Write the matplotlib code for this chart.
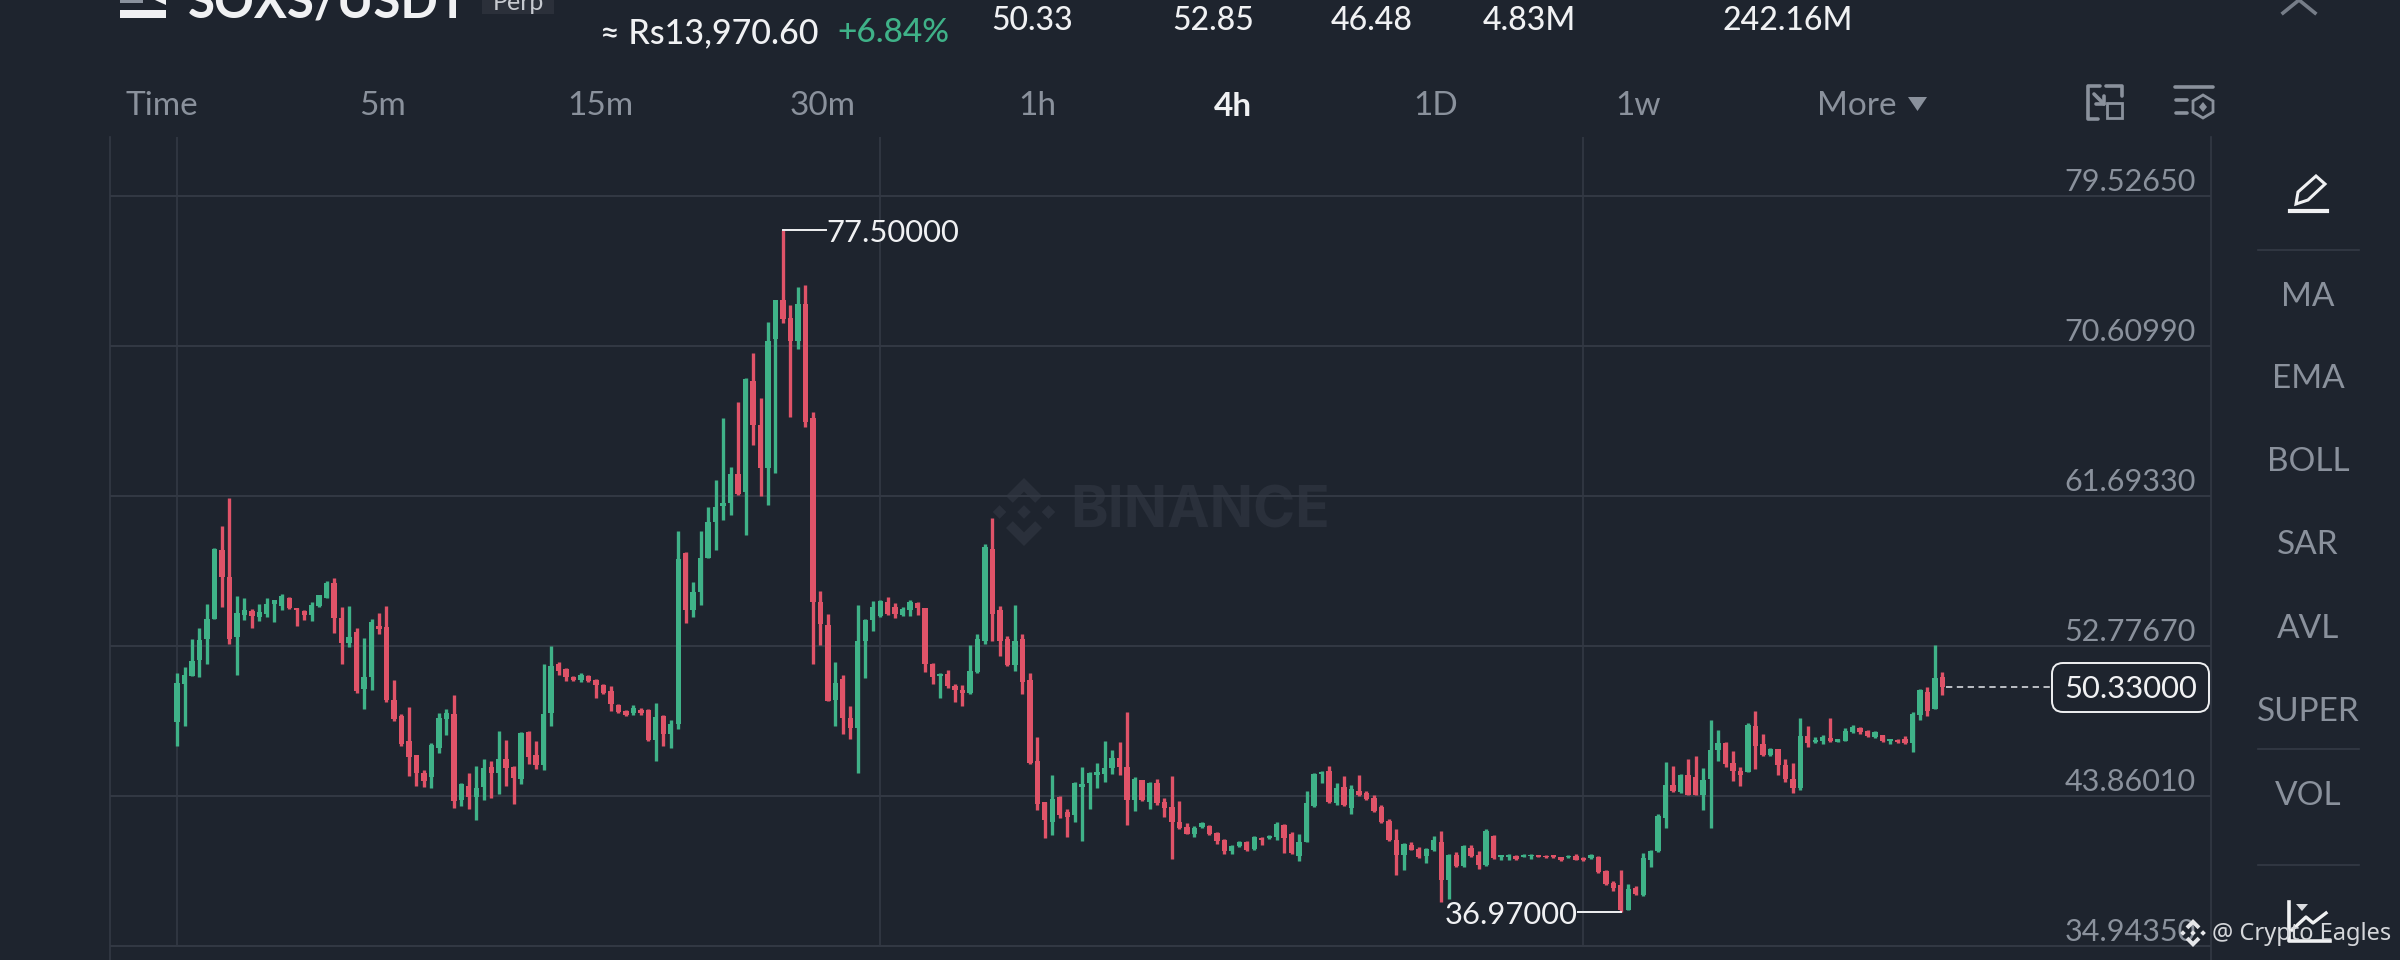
import matplotlib
matplotlib.use("Agg")
import matplotlib.pyplot as plt
from matplotlib.patches import Polygon, FancyBboxPatch, Rectangle

# ---------- data ----------
direction = ("GGGGGGRRGG" "RGGGGRRRGG" "GRRGRGGRRR" "RRRRGGGRGR" "GGRGRRGRRG" "GRRRGRRRRR"
             "RGRRGRGGRG" "GGGGGRGRRG" "GRRGRRRRGR" "RGGGGRRGGR" "RRGRRRGGGR" "RRGRRRRGRR"
             "GGGGGGRRGR" "GRRRRRGGRR" "RGGRGRGGRR" "GGGGRGRGRR" "RRRRGRRGGR" "GRGRRGRGGR"
             "GGRRRRGRRG" "RRRRGRGGGG" "RGRRGGGRRR" "GRRGRRRGRG" "GRGGGRRGRG" "RRGGRGR")
highs = [51.17,51.53,53.22,53.83,55.28,58.60,59.88,61.58,55.77,55.65,
         54.97,55.28,55.65,55.52,55.89,55.69,55.04,54.92,55.40,55.81,
         56.61,56.83,55.11,55.14,53.83,53.27,54.36,54.73,55.16,50.73,
         48.75,49.16,46.32,45.43,46.98,48.82,49.04,49.88,44.63,45.23,
         45.67,46.08,45.96,47.73,47.17,45.67,47.66,47.70,47.10,51.70,
         52.76,51.84,51.48,50.97,51.17,51.05,50.80,50.49,50.39,49.35,
         48.99,49.28,49.06,49.04,49.40,48.70,48.38,59.59,58.38,56.59,
         59.59,61.04,62.64,66.30,63.39,67.27,68.72,70.22,67.51,72.06,
         73.37,77.50,73.03,74.09,74.21,66.71,56.06,54.68,51.84,51.05,
         49.23,55.23,54.36,55.45,55.52,55.69,55.35,55.11,55.52,55.40,
         55.04,51.77,51.17,51.36,50.51,50.44,52.86,53.49,58.84,60.37,
         55.16,53.39,55.23,53.51,51.17,47.34,43.53,45.08,43.83,43.07,
         44.72,45.57,45.29,45.81,47.15,46.60,47.04,48.84,44.98,44.82,
         44.68,44.86,43.73,45.06,43.57,42.28,42.08,42.30,42.14,41.69,
         41.31,40.95,41.19,41.21,41.51,41.45,41.53,42.30,42.20,41.71,
         41.59,44.18,45.21,45.37,45.65,44.62,45.06,44.52,45.11,44.16,
         43.89,43.33,42.48,41.90,41.05,41.15,40.81,40.79,41.49,41.79,
         40.42,40.52,40.95,40.95,40.56,41.89,41.55,40.38,40.40,40.38,
         40.40,40.40,40.38,40.36,40.36,40.24,40.34,40.44,40.22,40.42,
         40.28,39.45,38.83,39.43,38.63,38.50,40.48,40.64,42.79,45.87,
         45.63,45.19,46.08,46.26,45.53,48.36,47.77,47.05,46.52,45.59,
         48.20,48.94,47.55,46.72,46.68,46.06,45.83,48.48,48.01,47.35,
         47.51,48.50,47.25,47.91,48.05,47.97,47.79,47.75,47.51,47.25,
         47.23,47.45,48.86,50.22,50.34,52.82,51.23]
body_high = [50.56,51.05,51.89,53.15,54.36,58.55,58.48,56.86,54.75,54.92,
             54.87,54.80,55.28,55.48,55.72,55.65,55.04,54.85,55.23,55.81,
             56.49,56.49,54.43,53.30,53.59,50.92,54.19,53.95,53.88,49.59,
             48.62,47.10,46.28,45.23,46.88,48.50,48.79,48.75,44.56,44.46,
             44.34,45.55,45.60,46.08,46.08,45.60,47.61,47.66,46.28,48.75,
             51.60,51.70,51.41,50.92,51.05,50.97,50.75,50.44,50.08,49.28,
             48.94,49.08,48.99,48.99,48.55,48.62,48.14,57.95,58.31,56.01,
             57.99,60.12,61.04,61.29,62.98,62.98,68.67,68.55,65.93,70.90,
             73.32,73.32,72.30,73.08,73.08,66.30,55.40,54.02,50.56,50.80,
             48.50,53.05,54.31,55.11,55.45,55.40,55.09,54.99,55.40,55.35,
             55.04,51.72,51.12,51.12,50.39,50.13,51.29,53.18,58.67,58.55,
             54.92,53.18,53.10,53.22,50.73,45.96,43.49,43.69,43.79,42.89,
             44.62,44.58,45.21,45.31,45.55,46.10,46.10,45.61,44.88,44.78,
             44.62,44.66,43.53,43.23,42.34,42.04,41.98,42.24,42.08,41.65,
             41.25,40.89,41.11,41.11,41.45,41.37,41.49,42.20,42.14,41.59,
             41.15,43.43,45.17,45.31,45.37,44.32,44.42,44.26,44.18,44.06,
             43.73,43.19,42.40,41.25,40.99,40.95,40.70,40.70,41.25,41.15,
             40.36,40.36,40.89,40.76,40.36,41.75,41.51,40.34,40.36,40.28,
             40.38,40.38,40.36,40.32,40.34,40.22,40.32,40.28,40.18,40.38,
             40.26,39.41,38.69,38.59,38.34,38.38,40.18,40.58,42.66,44.54,
             44.54,45.11,45.13,44.97,44.80,46.58,47.01,47.01,45.83,45.37,
             48.10,48.01,46.92,46.66,46.64,45.73,44.84,47.41,47.45,47.21,
             47.37,47.31,47.23,47.75,47.97,47.93,47.75,47.65,47.47,47.23,
             47.19,47.25,48.76,50.14,50.03,50.86,50.94]
body_low = [48.26,50.51,51.00,51.94,53.18,54.39,56.86,53.22,53.30,54.60,
            54.56,54.51,54.68,55.28,55.16,55.04,54.92,54.60,54.60,55.14,
            55.65,54.43,52.98,52.98,50.08,50.20,50.92,53.78,49.59,48.45,
            46.93,46.20,45.23,44.75,44.99,46.69,48.45,43.54,43.61,43.78,
            43.78,44.39,45.23,45.23,45.55,44.92,44.87,46.20,45.72,45.72,
            48.79,51.29,50.92,50.73,50.73,50.68,50.44,49.96,49.35,48.87,
            48.70,48.79,48.79,47.17,47.17,47.53,47.53,48.14,54.92,54.92,
            55.96,58.02,60.12,61.09,61.29,61.82,61.94,65.93,63.34,63.34,
            71.02,72.23,70.90,70.90,66.06,55.40,54.07,49.52,49.59,48.50,
            47.90,47.90,53.05,54.31,54.56,54.68,54.68,54.60,54.92,55.04,
            51.70,50.92,50.97,50.39,50.13,49.96,49.96,51.24,53.10,54.68,
            53.10,51.65,51.65,50.63,45.84,43.37,42.44,42.34,42.74,42.60,
            42.74,44.42,44.62,45.11,45.17,45.51,45.61,43.63,43.63,43.63,
            43.53,43.43,43.13,42.34,41.98,41.61,41.59,42.00,41.59,41.21,
            40.56,40.56,40.89,40.66,40.70,41.25,41.35,41.45,41.35,40.46,
            40.30,41.15,43.27,45.17,43.53,43.47,43.33,43.13,43.92,43.67,
            42.94,42.34,41.25,40.36,40.36,40.66,40.26,40.30,40.66,38.87,
            38.87,39.67,39.67,40.32,39.77,39.77,40.16,40.24,40.26,40.12,
            40.26,40.28,40.26,40.24,40.22,40.08,40.22,40.08,40.04,40.18,
            39.33,38.63,38.40,37.11,37.11,38.06,38.00,40.08,40.58,42.56,
            44.14,44.08,43.94,43.94,43.94,44.84,46.58,45.79,45.33,45.13,
            45.29,46.86,46.32,46.32,45.73,44.84,44.34,44.34,47.01,47.05,
            47.11,47.11,47.07,47.15,47.65,47.65,47.41,47.37,47.11,47.11,
            47.05,47.01,47.01,48.66,48.94,49.05,50.33]
lows = [46.81,48.02,50.97,50.92,51.70,54.36,55.11,52.91,51.05,54.31,
        53.83,54.24,54.51,54.19,54.92,54.97,53.95,54.31,54.27,55.11,
        55.62,53.54,51.70,52.74,49.96,49.04,50.13,53.47,49.47,48.33,
        46.81,45.04,44.46,44.39,44.31,46.42,47.49,43.13,43.25,43.06,
        42.45,43.61,43.71,43.95,44.48,43.37,44.58,45.79,45.45,45.40,
        48.02,51.05,50.68,50.68,50.63,50.61,49.67,49.91,48.94,48.82,
        48.60,48.70,48.67,47.15,45.96,46.86,46.69,47.87,54.12,54.51,
        55.21,57.99,58.48,60.29,60.56,61.77,59.40,64.72,61.70,61.14,
        63.03,71.99,66.37,70.41,65.79,51.72,52.86,49.50,48.02,47.53,
        47.24,45.23,50.85,53.66,54.51,54.60,54.43,54.58,54.53,54.63,
        51.22,50.51,49.67,50.25,49.47,49.23,49.93,51.17,52.91,53.10,
        52.18,51.60,51.29,49.91,45.79,43.01,41.35,41.55,42.54,41.45,
        42.34,41.21,43.07,44.36,44.68,45.17,45.09,42.14,42.97,43.59,
        43.09,43.33,42.60,40.12,41.90,41.59,41.41,41.94,41.53,41.01,
        40.42,40.42,40.85,40.58,40.66,40.95,41.33,41.25,40.46,40.40,
        40.02,41.11,43.23,44.62,43.43,43.33,43.27,42.78,43.83,43.63,
        42.88,42.28,41.21,39.17,39.43,40.62,40.20,39.87,40.60,37.54,
        37.74,39.63,39.61,40.26,39.51,39.71,40.12,40.08,40.08,40.08,
        40.22,40.12,40.22,40.20,40.18,40.02,40.18,40.04,39.98,40.14,
        39.29,38.57,38.20,36.97,37.07,38.00,37.94,39.64,40.54,41.96,
        44.10,44.04,43.90,43.90,43.01,41.98,45.93,45.59,44.74,44.48,
        45.27,45.49,46.22,46.26,45.09,44.68,44.04,44.24,46.78,47.01,
        46.97,47.07,47.05,47.11,47.61,47.57,47.37,47.29,47.05,46.97,
        47.01,46.97,46.46,48.36,48.60,49.03,49.85]
candles = list(range(len(highs)))
opens = [b if d == "G" else t for d, t, b in zip(direction, body_high, body_low)]
closes = [t if d == "G" else b for d, t, b in zip(direction, body_high, body_low)]

price_ticks = [79.52650, 70.60990, 61.69330, 52.77670, 43.86010, 34.94350]
time_marks = [0, 94, 188]
last_price = 50.33
high_mark = (81, 77.5)
low_mark = (193, 36.97)

tabs = ["Time", "5m", "15m", "30m", "1h", "4h", "1D", "1w", "More"]
tools = ["MA", "EMA", "BOLL", "SAR", "AVL", "SUPER", "VOL"]
stats = ["50.33", "52.85", "46.48", "4.83M", "242.16M"]

# ---------- style ----------
BG = "#1E242E"; GRID = "#333944"; GREEN = "#3FB288"; RED = "#DF5368"
GRAY = "#8A919C"; WHITE = "#F0F1F3"; MARK = "#2A303B"; LINE = "#343A45"
plt.rcParams["font.family"] = ["Lato", "DejaVu Sans"]

fig = plt.figure(figsize=(24, 9.6), dpi=100, facecolor=BG)
ax = fig.add_axes([110 / 2400, 0, 2101 / 2400, 823 / 960], facecolor=BG)
ax.set_xlim(-8.96, 271.9)
ax.set_ylim(34.11, 83.03)

ui = fig.add_axes([0, 0, 1, 1], zorder=5)
ui.set_xlim(0, 2400); ui.set_ylim(960, 0); ui.axis("off"); ui.patch.set_alpha(0)

# watermark under candles
wm = fig.add_axes([0, 0, 1, 1], zorder=-1)
wm.set_xlim(0, 2400); wm.set_ylim(960, 0); wm.axis("off")
ax.patch.set_alpha(0)


def logo(a, cx, cy, s, color, z=2):
    def dia(x, y, r):
        return Polygon([(x, y - r), (x + r, y), (x, y + r), (x - r, y)], color=color, lw=0, zorder=z)
    a.add_patch(dia(cx, cy, .2 * s))
    a.add_patch(dia(cx - .72 * s, cy, .2 * s))
    a.add_patch(dia(cx + .72 * s, cy, .2 * s))
    for sg in (-1, 1):
        a.add_patch(Polygon([(cx, cy + sg * s), (cx + .53 * s, cy + sg * .47 * s), (cx + .33 * s, cy + sg * .27 * s),
                             (cx, cy + sg * .6 * s), (cx - .33 * s, cy + sg * .27 * s), (cx - .53 * s, cy + sg * .47 * s)],
                            color=color, lw=0, zorder=z))


logo(wm, 1024, 512, 34, MARK)
wm.text(1200, 513, "BINANCE", color=MARK, fontsize=41, fontweight="bold", ha="center", va="center", family="Inter")

# ---------- price chart ----------
for s in ("top", "bottom"):
    ax.spines[s].set_visible(False)
for s in ("left", "right"):
    ax.spines[s].set_color(GRID); ax.spines[s].set_linewidth(1.2)
ax.yaxis.tick_right()
ax.set_yticks(price_ticks, [f"{v:.5f}" for v in price_ticks], color=GRAY, fontsize=22, ha="right", va="bottom")
ax.tick_params(axis="y", length=0, pad=-11)
ax.tick_params(axis="x", length=0, labelbottom=False)
ax.set_xticks([])
ax.grid(axis="y", color=GRID, lw=1.4)
ax.set_axisbelow(True)
ax.vlines(time_marks, price_ticks[-1], 83.03, color=GRID, lw=1.2, zorder=1)

colors = [GREEN if c >= o else RED for o, c in zip(opens, closes)]
ax.vlines(candles, lows, highs, colors=colors, lw=2.4, zorder=3)
ax.bar(candles, [abs(c - o) for o, c in zip(opens, closes)], bottom=[min(o, c) for o, c in zip(opens, closes)],
       width=0.72, color=colors, lw=0, zorder=3)

# extreme callouts
ax.plot([high_mark[0], high_mark[0] + 5.7], [high_mark[1]] * 2, color=WHITE, lw=1.4, zorder=4)
ax.annotate(f"{high_mark[1]:.5f}", (high_mark[0] + 5.75, high_mark[1]), xytext=(0, -2), textcoords="offset points",
            color=WHITE, fontsize=22.3, va="center", ha="left", zorder=6)
ax.plot([low_mark[0], low_mark[0] - 5.7], [low_mark[1]] * 2, color=WHITE, lw=1.4, zorder=4)
ax.annotate(f"{low_mark[1]:.5f}", (low_mark[0] - 5.75, low_mark[1]), xytext=(0, -2), textcoords="offset points",
            color=WHITE, fontsize=22.3, va="center", ha="right", zorder=6)

# last price
ax.plot([candles[-1] + .5, 258.8], [last_price] * 2, color="#C8CBD0", lw=1.3, dashes=(3.5, 2.5), zorder=4)
ui.add_patch(FancyBboxPatch((2052, 663), 157, 49, boxstyle="round,pad=0,rounding_size=11", fc=BG, ec=WHITE, lw=1.4, zorder=4))
ui.text(2131, 689, f"{last_price:.5f}", color=WHITE, fontsize=22.3, ha="center", va="center", zorder=5)

# ---------- header ----------
ui.add_patch(Rectangle((482, -10), 72, 24, fc="#2B303A", lw=0))
ui.text(518, 3, "Perp", color="#C7CAD0", fontsize=18, ha="center", va="center")
ui.text(188, 18, "SOXS/USDT", color=WHITE, fontsize=35.5, fontweight="bold", ha="left", va="baseline")
ui.add_patch(Rectangle((120, 10), 46, 8, fc=WHITE, lw=0))
ui.add_patch(Rectangle((120, 0), 23, 3, fc=GRAY, lw=0))
ui.add_patch(Polygon([(155, 0), (166, 0), (166, 5)], color=WHITE, lw=0))
ui.text(600, 33, "≈ Rs13,970.60", color=WHITE, fontsize=24.5, ha="left", va="center", fontweight="medium")
ui.text(837, 33, "+6.84%", color=GREEN, fontsize=24, ha="left", va="center", fontweight="medium")
for x, s in zip([991, 1172, 1331, 1483, 1722], stats):
    ui.text(x, 21, s, color=WHITE, fontsize=23, ha="left", va="center", fontweight="medium")

for x, s in zip([126, 359, 567, 790, 1018, 1214, 1413, 1615, 1817], tabs):
    on = s == "4h"
    ui.text(x, 106, s, color=WHITE if on else GRAY, fontsize=24, ha="left", va="center", fontweight="bold" if on else "normal")
ui.add_patch(Polygon([(1908, 97), (1927, 97), (1917.5, 111)], color=GRAY, lw=0))

# toolbar icons
ic = dict(color=GRAY, lw=2.6, solid_capstyle="round")
ui.plot([2100, 2088, 2088, 2098], [86, 86, 119, 119], **ic)
ui.plot([2106, 2122, 2122], [86, 86, 96], **ic)
ui.add_patch(Rectangle((2107, 103), 15, 15, fc="none", ec=GRAY, lw=2))
ui.plot([2094, 2104], [94, 104], **ic)
ui.plot([2096, 2104, 2104], [104, 104, 96], **ic)
ui.plot([2175, 2213], [87, 87], **ic)
ui.plot([2176, 2187], [100, 100], **ic)
ui.plot([2176, 2187], [113, 113], **ic)
ui.add_patch(Polygon([(2203, 95), (2213, 101), (2213, 112), (2203, 118), (2193, 112), (2193, 101)], fc="none", ec=GRAY, lw=2))
ui.add_patch(Polygon([(2203, 102), (2207, 107), (2203, 112), (2199, 107)], color=GRAY, lw=0))
ui.plot([2283, 2299, 2315], [13, 0, 13], color="#767D88", lw=2.6)

# pen
ui.add_patch(Polygon([(2296, 204), (2298, 192), (2316, 176), (2325, 184), (2308, 200)], fc="none", ec=WHITE, lw=2.2))
ui.plot([2290, 2327], [211, 211], color=WHITE, lw=3)

# side menu
for y, s in zip([297, 379, 462, 545, 629, 712, 796], tools):
    ui.text(2308, y, s, color=GRAY, fontsize=24, ha="center", va="center")
for y in (250, 749, 865):
    ui.plot([2258, 2359], [y, y], color=LINE, lw=1.2)

# bottom icon and credit
ui.plot([2289, 2289, 2330], [902, 941, 941], color=WHITE, lw=2.6)
ui.plot([2292, 2306, 2313, 2326], [930, 917, 923, 913], color=WHITE, lw=2.4)
ui.add_patch(Polygon([(2296, 904), (2308, 904), (2302, 911)], color="#D9DBDF", lw=0))
logo(ui, 2193, 933, 14, "#E6E7EA", z=6)
ui.text(2212, 934, "@ Crypto Eagles", color="#D5D7DB", fontsize=17, ha="left", va="center", family="Noto Sans", zorder=6)

fig.savefig("out.png", dpi=100, facecolor=BG)
